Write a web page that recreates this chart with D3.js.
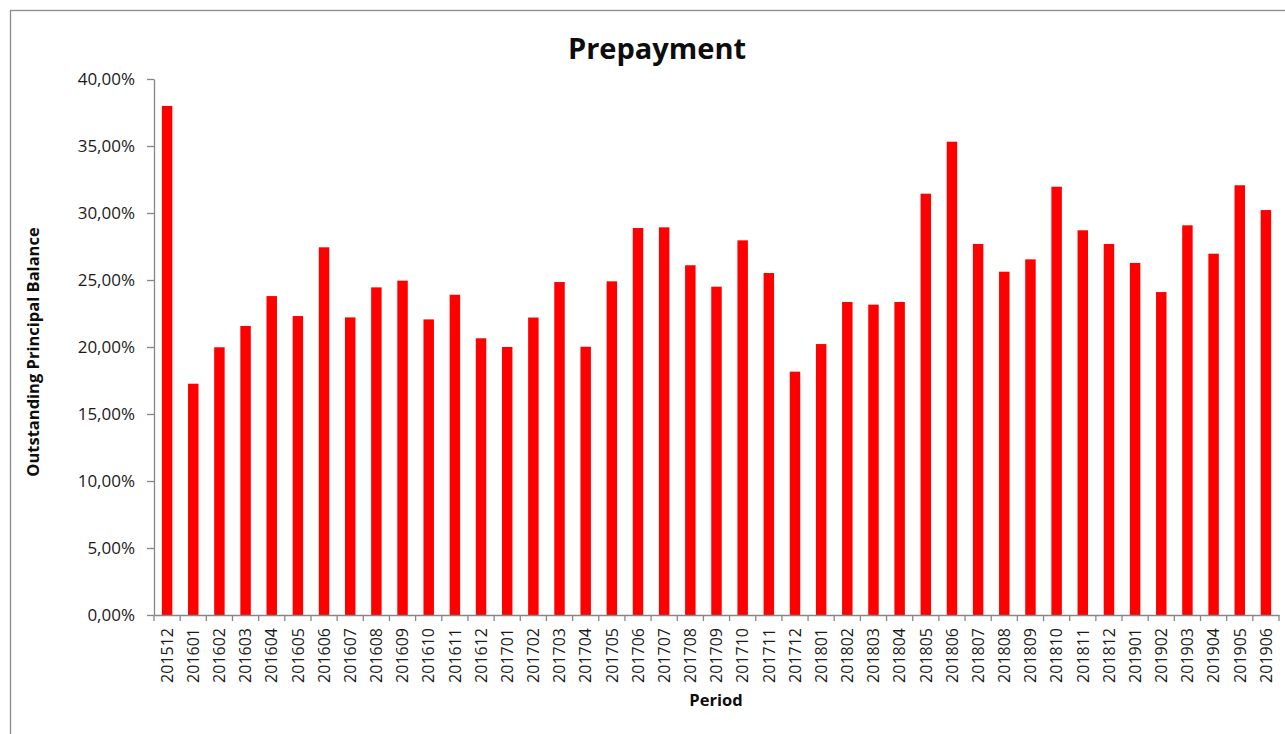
<!DOCTYPE html>
<html>
<head>
<meta charset="utf-8">
<script src="https://cdn.jsdelivr.net/npm/d3@7"></script>
<style>
  body { margin: 0; background: #fff; }
  svg { display: block; }
</style>
</head>
<body>
<div id="chart"></div>
<script>
// periods on the x axis
const periods = [
  "201512", "201601", "201602", "201603", "201604", "201605", "201606", "201607",
  "201608", "201609", "201610", "201611", "201612", "201701", "201702", "201703",
  "201704", "201705", "201706", "201707", "201708", "201709", "201710", "201711",
  "201712", "201801", "201802", "201803", "201804", "201805", "201806", "201807",
  "201808", "201809", "201810", "201811", "201812", "201901", "201902", "201903",
  "201904", "201905", "201906"
];

// prepayment, as share of outstanding principal balance
const prepayment = [
  0.3799, 0.1726, 0.1998, 0.2157, 0.2380, 0.2231, 0.2744, 0.2221,
  0.2445, 0.2495, 0.2206, 0.2390, 0.2065, 0.2000, 0.2220, 0.2485,
  0.2002, 0.2490, 0.2888, 0.2893, 0.2610, 0.2450, 0.2796, 0.2552,
  0.1816, 0.2022, 0.2336, 0.2316, 0.2336, 0.3144, 0.3532, 0.2769,
  0.2562, 0.2654, 0.3196, 0.2871, 0.2769, 0.2627, 0.2410, 0.2908,
  0.2696, 0.3207, 0.3022
];

const yTicks = [0, 0.05, 0.10, 0.15, 0.20, 0.25, 0.30, 0.35, 0.40];

const W = 1285, H = 734;
const margin = {top: 79, right: 6, bottom: 119, left: 154};
const width = W - margin.left - margin.right,
      height = H - margin.top - margin.bottom;

const font = "'Open Sans', sans-serif";

const svg = d3.select("#chart")
  .append("svg")
  .attr("width", W)
  .attr("height", H);

// chart area frame (runs off the right/bottom edge like the original)
svg.append("rect")
  .attr("x", 10.5)
  .attr("y", 10.5)
  .attr("width", W + 20)
  .attr("height", H + 20)
  .attr("fill", "none")
  .attr("stroke", "#8c8c8c")
  .attr("stroke-width", 1.3);

const g = svg.append("g")
  .attr("transform", "translate(" + margin.left + "," + margin.top + ")");

var x = d3.scaleBand()
  .domain(periods)
  .range([0, width])
  .paddingInner(0.6)
  .paddingOuter(0.3);

var y = d3.scaleLinear()
  .domain([0, 0.4])
  .range([height, 0]);

const fmt = d => d3.format(".2f")(d * 100).replace(".", ",") + "%";

// bars
g.selectAll("rect.bar")
  .data(prepayment)
  .enter()
  .append("rect")
  .attr("class", "bar")
  .attr("x", (d, i) => x(periods[i]))
  .attr("width", x.bandwidth())
  .attr("y", d => y(d))
  .attr("height", d => height - y(d))
  .attr("fill", "#ff0000");

// y axis
const yAxis = g.append("g")
  .call(d3.axisLeft(y).tickValues(yTicks).tickFormat(fmt).tickSize(7).tickSizeOuter(0));
yAxis.select(".domain").attr("stroke", "#868686").attr("stroke-width", 1.3);
yAxis.selectAll(".tick line").attr("stroke", "#868686").attr("stroke-width", 1.3);
yAxis.selectAll(".tick text")
  .attr("x", -19)
  .attr("fill", "#1a1a1a")
  .style("font-family", font)
  .style("font-size", "17px");

// x axis: ticks sit between the categories
const xAxis = g.append("g")
  .attr("transform", "translate(0," + height + ")")
  .call(d3.axisBottom(x).tickSize(0).tickSizeOuter(0));
xAxis.select(".domain").attr("stroke", "#868686").attr("stroke-width", 1.3);
xAxis.selectAll(".tick text")
  .attr("transform", "rotate(-90)")
  .attr("x", -13)
  .attr("y", 0)
  .attr("dy", "0.36em")
  .attr("text-anchor", "end")
  .attr("fill", "#1a1a1a")
  .style("font-family", font)
  .style("font-size", "16px");

const bounds = d3.range(periods.length + 1).map(i => i * width / periods.length);
xAxis.selectAll("line.sep")
  .data(bounds)
  .enter()
  .append("line")
  .attr("class", "sep")
  .attr("x1", d => d)
  .attr("x2", d => d)
  .attr("y1", 0)
  .attr("y2", 6)
  .attr("stroke", "#868686")
  .attr("stroke-width", 1.3);

// title
svg.append("text")
  .attr("x", 657)
  .attr("y", 59)
  .attr("text-anchor", "middle")
  .attr("fill", "#0d0d0d")
  .style("font-family", font)
  .style("font-weight", "bold")
  .style("font-size", "29px")
  .text("Prepayment");

// axis titles
svg.append("text")
  .attr("x", 716)
  .attr("y", 706)
  .attr("text-anchor", "middle")
  .attr("fill", "#0d0d0d")
  .style("font-family", font)
  .style("font-weight", "bold")
  .style("font-size", "16.5px")
  .text("Period");

svg.append("text")
  .attr("transform", "translate(39,352) rotate(-90)")
  .attr("text-anchor", "middle")
  .attr("fill", "#0d0d0d")
  .style("font-family", font)
  .style("font-weight", "bold")
  .style("font-size", "16.5px")
  .text("Outstanding Principal Balance");
</script>
</body>
</html>
